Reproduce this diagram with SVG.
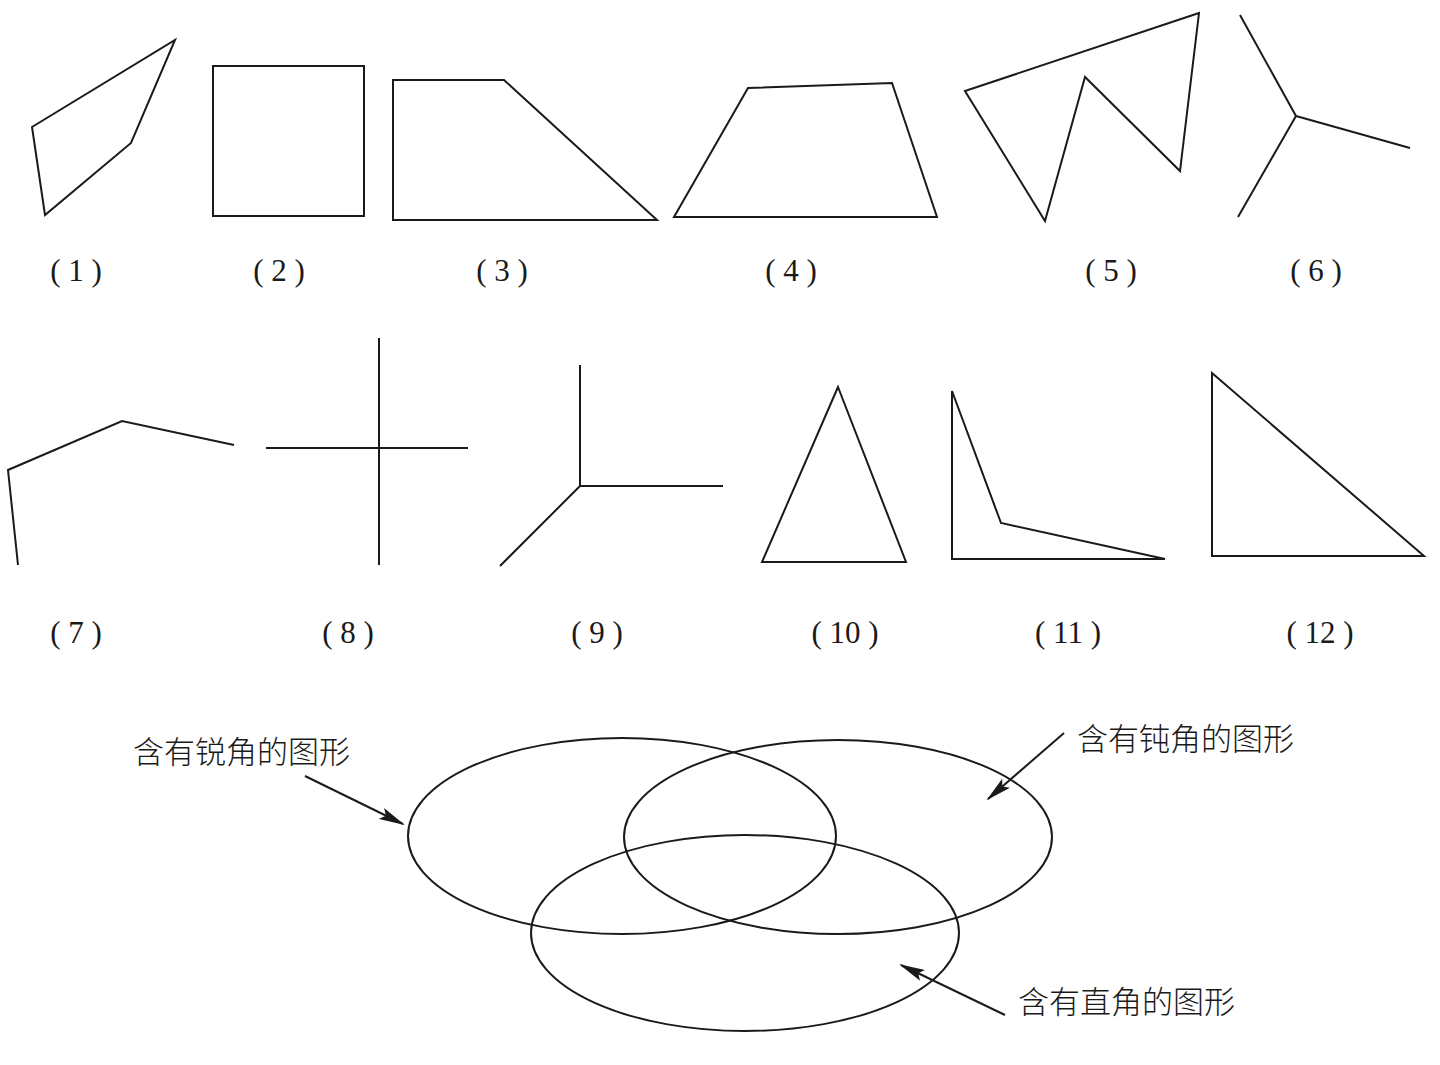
<svg xmlns="http://www.w3.org/2000/svg" width="1440" height="1065" viewBox="0 0 1440 1065">
<style>
.s{fill:none;stroke:#1a1a1a;stroke-width:2;stroke-linejoin:miter}
.n{font-family:"Liberation Serif","Noto Sans CJK SC",serif;font-size:31px;fill:#1a1a1a;text-anchor:middle}
.c{font-family:"Noto Sans CJK SC","Noto Sans CJK JP",sans-serif;font-size:31px;fill:#1a1a1a;font-weight:300}
.a{fill:none;stroke:#1a1a1a;stroke-width:2;marker-end:url(#ah)}
</style>
<defs>
<marker id="ah" viewBox="0 0 26 12" refX="24" refY="6" markerWidth="26" markerHeight="12" markerUnits="userSpaceOnUse" orient="auto">
<path d="M0,0 L26,6 L0,12 L5,6 Z" fill="#1a1a1a"/>
</marker>
</defs>
<rect width="1440" height="1065" fill="#fff"/>
<g id="fig1"><polygon class="s" points="32,127 175,40 131,143 45,215"/><text class="n" x="76" y="281">( 1 )</text></g>
<g id="fig2"><rect class="s" x="213" y="66" width="151" height="150"/><text class="n" x="279" y="281">( 2 )</text></g>
<g id="fig3"><polygon class="s" points="393,80 504,80 657,220 393,220"/><text class="n" x="502" y="281">( 3 )</text></g>
<g id="fig4"><polygon class="s" points="748,88 892,83 937,217 674,217"/><text class="n" x="791" y="281">( 4 )</text></g>
<g id="fig5"><polygon class="s" points="965,91 1199,13 1180,171 1085,77 1045,221"/><text class="n" x="1111" y="281">( 5 )</text></g>
<g id="fig6"><path class="s" d="M1296,116 L1240,15 M1296,116 L1410,148 M1296,116 L1238,217"/><text class="n" x="1316" y="281">( 6 )</text></g>
<g id="fig7"><polyline class="s" points="18,565 8,470 122,421 234,445"/><text class="n" x="76" y="643">( 7 )</text></g>
<g id="fig8"><path class="s" d="M379,338 L379,565 M266,448 L468,448"/><text class="n" x="348" y="643">( 8 )</text></g>
<g id="fig9"><path class="s" d="M580,365 L580,486 L723,486 M580,486 L500,566"/><text class="n" x="597" y="643">( 9 )</text></g>
<g id="fig10"><polygon class="s" points="838,387 906,562 762,562"/><text class="n" x="845" y="643">( 10 )</text></g>
<g id="fig11"><polygon class="s" points="952,391 1001,523 1165,559 952,559"/><text class="n" x="1068" y="643">( 11 )</text></g>
<g id="fig12"><polygon class="s" points="1212,373 1424,556 1212,556"/><text class="n" x="1320" y="643">( 12 )</text></g>
<g id="acute"><ellipse class="s" cx="622" cy="836" rx="214" ry="98"/><text class="c" x="133" y="763">含有锐角的图形</text></g>
<g id="obtuse"><ellipse class="s" cx="838" cy="837" rx="214" ry="97"/><text class="c" x="1077" y="750">含有钝角的图形</text></g>
<g id="right"><ellipse class="s" cx="745" cy="933" rx="214" ry="98"/><text class="c" x="1018" y="1013">含有直角的图形</text></g>
<g id="connectors">
<line class="a" x1="305" y1="776" x2="403" y2="824"/>
<line class="a" x1="1064" y1="733" x2="988" y2="799"/>
<line class="a" x1="1005" y1="1015" x2="901" y2="965"/>
</g>
</svg>
